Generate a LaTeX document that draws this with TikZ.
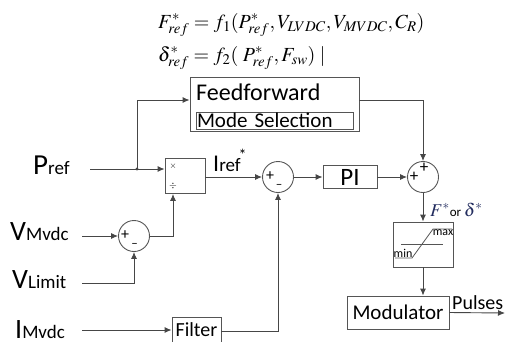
\documentclass[tikz,border=0pt]{standalone}
\usepackage{mathptmx}
\usepackage{fontspec}
\setmainfont{Carlito}
\usetikzlibrary{arrows.meta,positioning,calc}
\definecolor{wiregray}{RGB}{70,70,70}
\definecolor{boxgray}{RGB}{85,85,85}
\definecolor{mathnavy}{RGB}{35,45,95}
\newcommand{\fsz}[1]{\fontsize{#1}{#1}\selectfont}
\tikzset{
  blk/.style={draw=boxgray,line width=0.9pt,inner sep=0pt,align=center},
  sumnode/.style={draw=boxgray,circle,line width=0.9pt,minimum size=31pt,inner sep=0pt},
  wire/.style={-{Latex[length=7pt,width=6pt]},draw=wiregray,line width=0.9pt},
  sgn/.style={inner sep=0pt,font=\fsz{16}},
  inlbl/.style={anchor=base west,inner sep=0pt}
}
\begin{document}
\begin{tikzpicture}[x=1pt,y=-1pt]
  \clip (0,0) rectangle (505,341);
  % formulas
  \node[inlbl,font=\fsz{20}] (eqa) at (158,28) {$F^{*}_{ref} = f_1(P^{*}_{ref},V_{LVDC},V_{MVDC},C_R)$};
  \node[inlbl,font=\fsz{20}] (eqb) at (158,61) {$\delta^{*}_{ref} = f_2(\;P^{*}_{ref},F_{sw})\;|$};
  % blocks
  \node[blk,minimum width=169pt,minimum height=54pt] (ff) at (274.5,104) {};
  \node[anchor=west,inner sep=0pt,font=\fsz{24}] (fftext) at (196,92) {Feedforward};
  \node[blk,minimum width=157pt,minimum height=17pt,text width=155pt,align=left,font=\fsz{21}] (mode) at (274.5,120.5) {Mode Selection};
  \node[blk,minimum width=40pt,minimum height=35pt] (mul) at (185,176) {};
  \node[sgn,font=\fsz{9}] (mulx) at (173,166) {$\times$};
  \node[sgn,font=\fsz{10}] (muld) at (173,186) {$\div$};
  \node[sumnode] (sum0) at (134,236) {};
  \node[sumnode] (sum1) at (278,177) {};
  \node[sumnode] (sum2) at (423,177) {};
  \node[sgn] at (125,235) {+};
  \node[sgn,font=\fsz{13}] at (134.5,245) {--};
  \node[sgn] at (270,176) {+};
  \node[sgn,font=\fsz{13}] at (279,186) {--};
  \node[sgn,font=\fsz{17}] at (414,177) {+};
  \node[sgn,font=\fsz{17}] at (424,168) {+};
  \node[blk,minimum width=54pt,minimum height=23pt,font=\fsz{25}] (pi) at (350,177) {PI};
  \node[blk,minimum width=60pt,minimum height=45pt] (sat) at (423,244.5) {};
  \draw[boxgray,line width=0.8pt] (401,244) -- (443,244);
  \draw[boxgray,line width=0.8pt] (395,258) -- (412,258) -- (433,229) -- (452,229);
  \node[sgn,font=\fsz{12}] (satmax) at (443,233) {max};
  \node[sgn,font=\fsz{12}] (satmin) at (403,253) {min};
  \node[blk,minimum width=102pt,minimum height=33pt,font=\fsz{21}] (mod) at (398,312.5) {Modulator};
  \node[blk,minimum width=49pt,minimum height=28pt,font=\fsz{20}] (filt) at (196.5,331) {\raisebox{2pt}{Filter}};
  % input labels
  \node[inlbl] (pref) at (33,174) {\fsz{29}P\fsz{19}ref};
  \node[inlbl] (vmvdc) at (10,240) {\fsz{28}V\fsz{19}Mvdc};
  \node[inlbl] (vlim) at (12,288) {\fsz{28}V\fsz{19}Limit};
  \node[inlbl] (imvdc) at (15,338) {\fsz{28}I\fsz{19}Mvdc};
  \node[inlbl] (iref) at (213,171) {\fsz{24}I\fsz{19}ref\kern-2pt\raisebox{11pt}{\fsz{16}*}};
  \node[inlbl] (fdlbl) at (430,216) {\fsz{18}\color{mathnavy}$F^{*}$\fsz{13}\color{black}or \fsz{18}\color{mathnavy}$\delta^{*}$};
  \node[inlbl,font=\fsz{20}] (pulses) at (452,309) {Pulses};
  % signal ends
  \coordinate (pin) at (90,169);
  \coordinate (jn) at (137,169);
  \coordinate (vmin) at (82,236);
  \coordinate (vlin) at (82,283);
  \coordinate (iin) at (82,330);
  \coordinate (mulin) at (173,236);
  \coordinate (pout) at (505,313);
  % connectors
  \draw[wire] (pin) -- (pin -| mul.west);
  \fill[wiregray] (jn) circle[radius=1.6pt];
  \draw[wire] (jn) |- ([yshift=4pt]ff.west);
  \draw[wire] ([yshift=4pt]ff.east) -| (sum2.north);
  \draw[wire] (vmin) -- (sum0.west);
  \draw[wire] (vlin) -| (sum0.south);
  \draw[wire] (sum0.east) -- (mulin) -- (mulin |- mul.south);
  \draw[wire] (mul.east |- sum1) -- (sum1);
  \draw[wire] (iin) -- (iin -| filt.west);
  \draw[wire] (filt.east) -| (sum1.south);
  \draw[wire] (sum1) -- (pi);
  \draw[wire] (pi) -- (sum2);
  \draw[wire] (sum2) -- (sat);
  \draw[wire] (sat.south) -- (sat.south |- mod.north);
  \draw[wire] (mod.east) -- (pout);
\end{tikzpicture}
\end{document}
